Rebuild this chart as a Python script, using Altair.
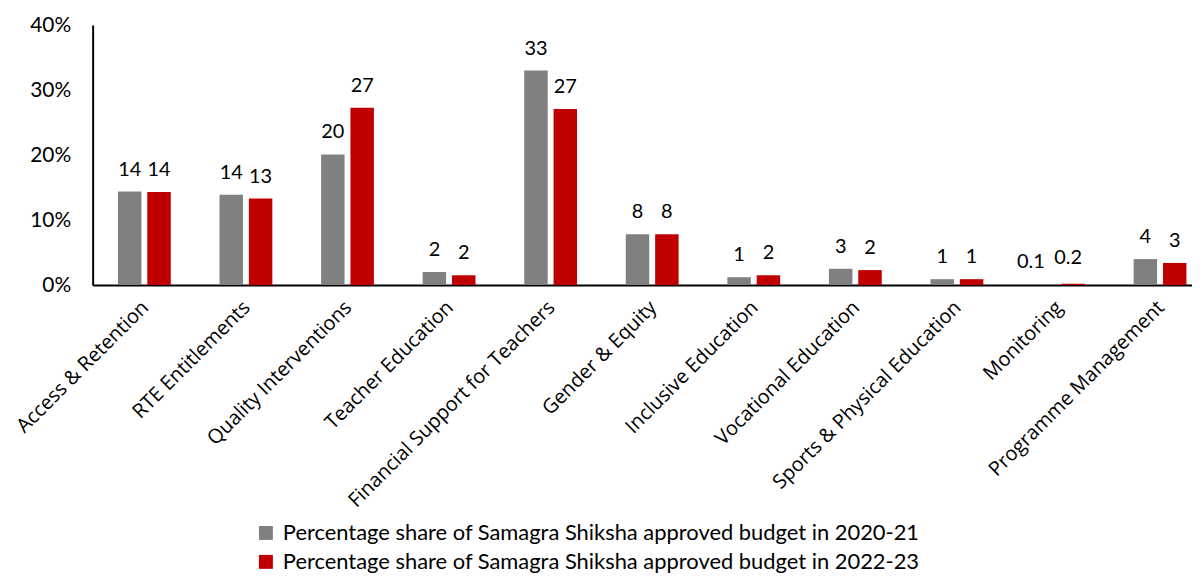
import altair as alt
import pandas as pd

categories = [
    "Access & Retention", "RTE Entitlements", "Quality Interventions",
    "Teacher Education", "Financial Support for Teachers", "Gender & Equity",
    "Inclusive Education", "Vocational Education", "Sports & Physical Education",
    "Monitoring", "Programme Management",
]
share_2020_21 = [14.4, 13.9, 20.1, 2.0, 33.0, 7.8, 1.2, 2.5, 0.9, 0.1, 4.0]
share_2022_23 = [14.3, 13.3, 27.3, 1.5, 27.1, 7.8, 1.5, 2.3, 0.9, 0.2, 3.4]
labels_2020_21 = ["14", "14", "20", "2", "33", "8", "1", "3", "1", "0.1", "4"]
labels_2022_23 = ["14", "13", "27", "2", "27", "8", "2", "2", "1", "0.2", "3"]
series = [
    "Percentage share of Samagra Shiksha approved budget in 2020-21",
    "Percentage share of Samagra Shiksha approved budget in 2022-23",
]
colors = ["#808080", "#C00000"]

rows = []
for c, v1, v2, l1, l2 in zip(categories, share_2020_21, share_2022_23, labels_2020_21, labels_2022_23):
    rows.append({"cat": c, "series": series[0], "value": v1 / 100, "label": l1})
    rows.append({"cat": c, "series": series[1], "value": v2 / 100, "label": l2})
df = pd.DataFrame(rows)

FONT = "Lato"
XFONT = "Open Sans"

x = alt.X("cat:N", sort=categories, title=None,
          scale=alt.Scale(paddingInner=0.48, paddingOuter=0.152, align=0.82),
          axis=alt.Axis(labelAngle=-45, labelFont=XFONT, labelFontSize=20,
                        labelColor="#000000", ticks=False, domainColor="#000000",
                        domainWidth=2, labelPadding=12, labelOffset=-6, labelLimit=400))
xoff = alt.XOffset("series:N", sort=series, scale=alt.Scale(paddingInner=0.2))
y = alt.Y("value:Q", title=None,
          scale=alt.Scale(domain=[0, 0.4]),
          axis=alt.Axis(format=".0%", values=[0, 0.1, 0.2, 0.3, 0.4], grid=False,
                        ticks=False, domainColor="#000000", domainWidth=2,
                        labelFont=FONT, labelFontSize=21, labelColor="#000000",
                        labelPadding=22))

bars = alt.Chart(df).mark_bar().encode(
    x=x, xOffset=xoff, y=y,
    color=alt.Color("series:N", sort=series,
                    scale=alt.Scale(domain=series, range=colors),
                    legend=alt.Legend(title=None, orient="none", legendX=163, legendY=499,
                                      direction="vertical", symbolType="square",
                                      symbolSize=196, symbolStrokeWidth=0,
                                      labelFont=FONT, labelFontSize=22,
                                      labelColor="#000000", labelOffset=6,
                                      rowPadding=7, padding=0, labelLimit=900)),
)

base_text = alt.Chart(df).encode(
    x=alt.X("cat:N", sort=categories),
    xOffset=alt.XOffset("series:N", sort=series),
    y="value:Q",
    text="label:N",
)
text_main = base_text.transform_filter("datum.value >= 0.005").mark_text(
    baseline="bottom", dy=-12, font=FONT, fontSize=20, color="#000000")
text_small_a = base_text.transform_filter(
    alt.datum.value < 0.005).transform_filter(alt.datum.series == series[0]).mark_text(
    baseline="bottom", dy=-12, dx=-13, font=FONT, fontSize=20, color="#000000")
text_small_b = base_text.transform_filter(
    alt.datum.value < 0.005).transform_filter(alt.datum.series == series[1]).mark_text(
    baseline="bottom", dy=-16, dx=-5, font=FONT, fontSize=20, color="#000000")

chart = (bars + text_main + text_small_a + text_small_b).properties(
    width=1104, height=261,
    autosize=alt.AutoSizeParams(type="none"),
    padding={"left": 85, "top": 16, "right": 0, "bottom": 290},
).configure_view(stroke=None)

chart.save("out.html", embed_options={"renderer": "svg", "actions": False})
